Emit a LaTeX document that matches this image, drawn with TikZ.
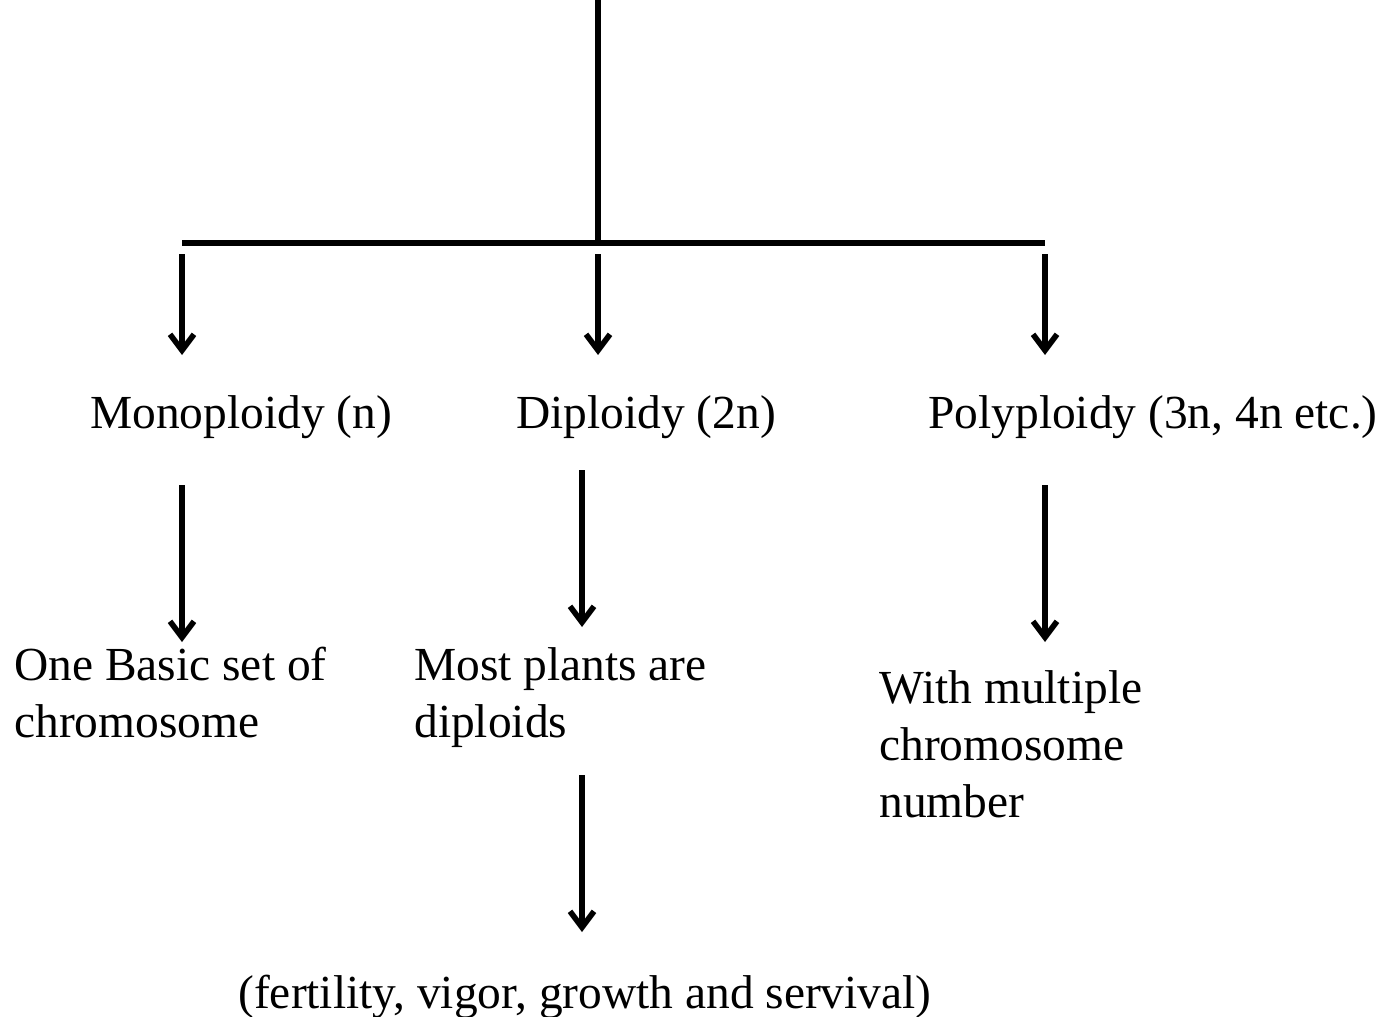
\documentclass[tikz,border=0pt]{standalone}
\usepackage{fontspec}
\setmainfont{Liberation Serif}
\usetikzlibrary{positioning}
\usetikzlibrary{arrows.meta}
\tikzset{arr/.style={line width=3.2pt, -{Straight Barb[length=3.2mm,width=4.8mm]}}}

\begin{document}
\begin{tikzpicture}
[
x=0.02cm, y=-0.02cm,
ln/.style={line width=3.2pt},
t/.style={inner sep=0pt, anchor=base west, align=left, font=\fontsize{27}{32.3}\selectfont}
]
\useasboundingbox (0,0) rectangle (1389,1017);

% tree lines
\coordinate (top) at (598,0);
\coordinate (mid) at (598,243);
\coordinate (bl) at (182,243);
\coordinate (br) at (1045,243);
\draw[ln] (top) -- (mid);
\draw[ln] (bl) -- (br);

% first level
\node[t] (mono) at (90,428) {Monoploidy (n)};
\node[t] (di) at (516,428) {Diploidy (2n)};
\node[t] (poly) at (928,428) {Polyploidy (3n, 4n etc.)};

\coordinate (a1) at (182,254);
\coordinate (a1e) at (182,355);
\coordinate (a2) at (598,254);
\coordinate (a2e) at (598,355);
\coordinate (a3) at (1045,254);
\coordinate (a3e) at (1045,355);
\draw[arr] (a1) -- (a1e);
\draw[arr] (a2) -- (a2e);
\draw[arr] (a3) -- (a3e);

% second level (base = last line)
\node[t] (one) at (14,737) {One Basic set of\\chromosome};
\node[t] (most) at (414,737) {Most plants are\\diploids};
\node[t] (with) at (879,817) {With multiple\\chromosome\\number};

\coordinate (b1) at (182,485);
\coordinate (b1e) at (182,642);
\coordinate (b2) at (582,470);
\coordinate (b2e) at (582,627);
\coordinate (b3) at (1045,485);
\coordinate (b3e) at (1045,642);
\draw[arr] (b1) -- (b1e);
\draw[arr] (b2) -- (b2e);
\draw[arr] (b3) -- (b3e);

% third level
\node[t] (fert) at (238,1008) {(fertility, vigor, growth and servival)};
\coordinate (c2) at (582,775);
\coordinate (c2e) at (582,932);
\draw[arr] (c2) -- (c2e);
\end{tikzpicture}
\end{document}
